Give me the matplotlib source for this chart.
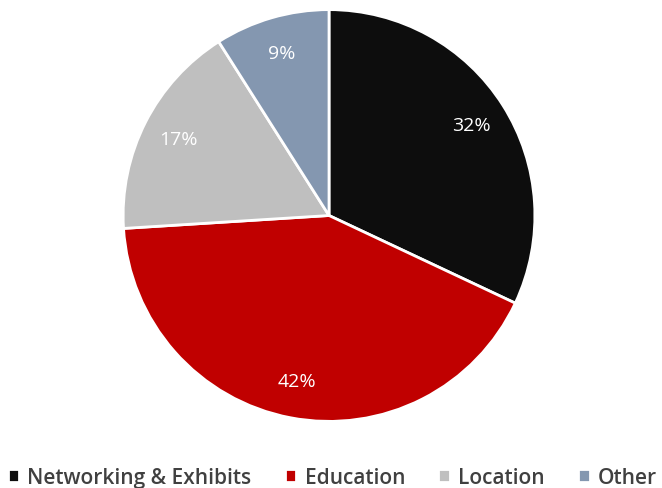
import matplotlib
matplotlib.use('Agg')
import matplotlib.pyplot as plt

categories = ['Networking & Exhibits', 'Education', 'Location', 'Other']
shares = [32, 42, 17, 9]
colors = ['#0d0d0d', '#c00000', '#bfbfbf', '#8497b0']

plt.rcParams['font.family'] = ['Open Sans', 'DejaVu Sans']

fig = plt.figure(figsize=(6.62, 4.89), dpi=100)
ax = fig.add_axes([0.186, 0.136, 0.622, 0.8425])
wedges, texts, autotexts = ax.pie(
    shares, colors=colors, startangle=90, counterclock=False,
    autopct='%d%%', pctdistance=0.82,
    wedgeprops=dict(edgecolor='white', linewidth=2))
for t in autotexts:
    t.set_color('white')
    t.set_fontsize(14)
ax.set_xlim(-1, 1)
ax.set_ylim(-1, 1)
ax.set_aspect('equal')

fig.legend(wedges, categories, loc='center', bbox_to_anchor=(0.502, 0.022),
           ncol=4, frameon=False,
           prop=dict(size=15, weight='semibold'), labelcolor='#404040',
           handlelength=0.55, handleheight=0.55, handletextpad=0.4,
           columnspacing=1.6, borderaxespad=0)

fig.savefig('out.png', dpi=100)
